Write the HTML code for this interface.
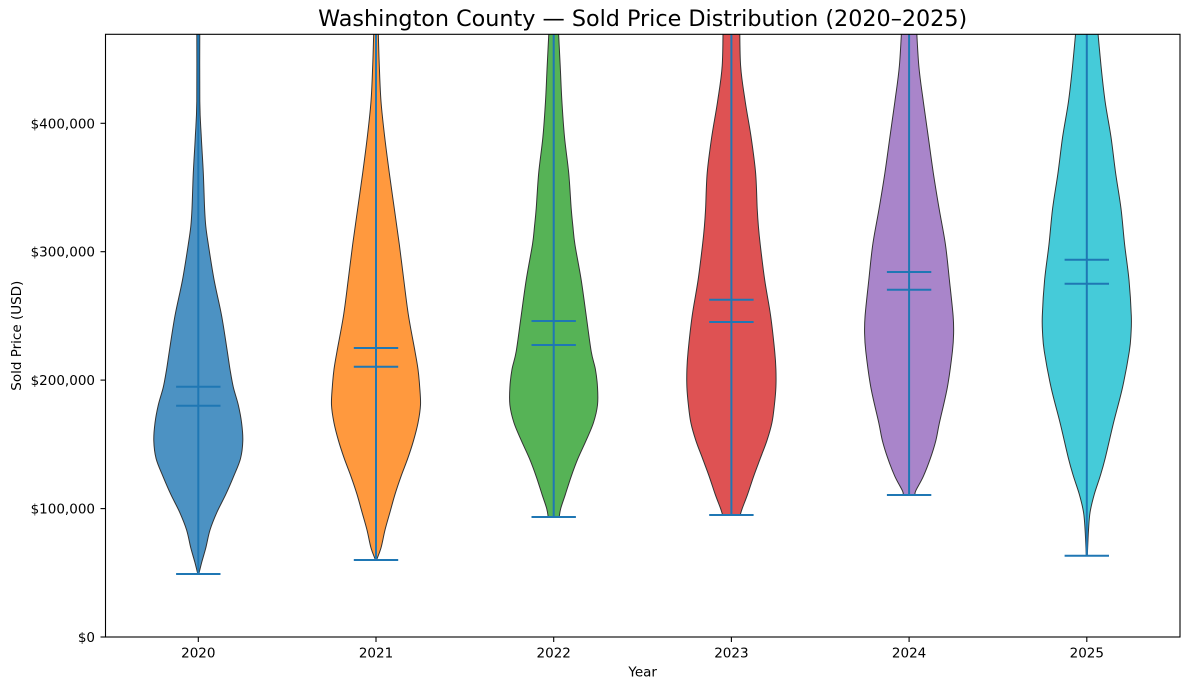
<!DOCTYPE html>
<html>
<head>
<meta charset="utf-8">
<style>
  html,body{margin:0;padding:0;background:#fff;}
  svg{display:block;}
  text{font-family:"DejaVu Sans","Liberation Sans",sans-serif;fill:#000;}
</style>
</head>
<body>
<svg id="chart" width="1189" height="690" viewBox="0 0 1189 690" xmlns="http://www.w3.org/2000/svg">
  <defs>
    <clipPath id="ax"><rect x="105.5" y="34.3" width="1074.5" height="602.7"/></clipPath>
  </defs>
  <rect x="0" y="0" width="1189" height="690" fill="#fff"/>

  <!-- Title -->
  <text x="642.7" y="26" font-size="22" text-anchor="middle" textLength="649" lengthAdjust="spacingAndGlyphs">Washington County — Sold Price Distribution (2020–2025)</text>

  <g clip-path="url(#ax)">
    <!-- Violin bodies -->
    <g transform="translate(198.3,0)">
      <polygon class="v" fill="#4c92c3" stroke="#333" stroke-width="1" stroke-linejoin="round" points="1.5,20 1.5,101.4 3,137.1 5,172.9 6.3,208.6 7.5,226.4 10,244.3 15.8,280 23.3,315.7 29,351.4 31.7,369.3 35,387.1 40,405 43.3,422.9 44.5,440.7 42.2,458.6 35.3,476.4 27.5,494.3 18.7,512.1 11.7,530 7.5,547.9 3.5,562 0.5,574 -0.5,574 -3.5,562 -7.5,547.9 -11.7,530 -18.7,512.1 -27.5,494.3 -35.3,476.4 -42.2,458.6 -44.5,440.7 -43.3,422.9 -40,405 -35,387.1 -31.7,369.3 -29,351.4 -23.3,315.7 -15.8,280 -10,244.3 -7.5,226.4 -6.3,208.6 -5,172.9 -3,137.1 -1.5,101.4 -1.5,20"/>
    </g>
    <g transform="translate(376,0)">
      <polygon class="v" fill="#ff993e" stroke="#333" stroke-width="1" stroke-linejoin="round" points="2.3,20 2.3,33.6 3.3,65.7 5,101.4 8.7,137.1 13.3,172.9 18.3,208.6 23.3,244.3 27.8,280 32.5,315.7 39,351.4 42,369.3 43.7,387.1 44.5,405 42,422.9 37.5,440.7 31.7,458.6 25,476.4 19,494.3 14,512.1 9,530 5,547.9 0.5,560 -0.5,560 -5,547.9 -9,530 -14,512.1 -19,494.3 -25,476.4 -31.7,458.6 -37.5,440.7 -42,422.9 -44.5,405 -43.7,387.1 -42,369.3 -39,351.4 -32.5,315.7 -27.8,280 -23.3,244.3 -18.3,208.6 -13.3,172.9 -8.7,137.1 -5,101.4 -3.3,65.7 -2.3,33.6 -2.3,20"/>
    </g>
    <g transform="translate(553.7,0)">
      <polygon class="v" fill="#56b356" stroke="#333" stroke-width="1" stroke-linejoin="round" points="4.2,20 6.5,65.7 8.2,101.4 10.8,137.1 15,172.9 17.5,208.6 19.2,226.4 21.2,244.3 27.5,280 32.5,315.7 37.5,351.4 41.7,369.3 43.8,387.1 43.8,405 39.7,422.9 32.3,440.7 24.2,458.6 17.5,476.4 11.7,494.3 7,508.6 5.5,517 -5.5,517 -7,508.6 -11.7,494.3 -17.5,476.4 -24.2,458.6 -32.3,440.7 -39.7,422.9 -43.8,405 -43.8,387.1 -41.7,369.3 -37.5,351.4 -32.5,315.7 -27.5,280 -21.2,244.3 -19.2,226.4 -17.5,208.6 -15,172.9 -10.8,137.1 -8.2,101.4 -6.5,65.7 -4.2,20"/>
    </g>
    <g transform="translate(731.4,0)">
      <polygon class="v" fill="#de5253" stroke="#333" stroke-width="1" stroke-linejoin="round" points="8.3,20 9.2,65.7 13.8,101.4 19.7,137.1 24.2,172.9 25.8,208.6 27,226.4 28.8,244.3 33.3,280 39.2,315.7 43.3,351.4 44.5,369.3 44.5,387.1 43,405 40.5,422.9 35.5,440.7 28.8,458.6 22.2,476.4 16.2,494.3 10.8,508.6 8.8,515 -8.8,515 -10.8,508.6 -16.2,494.3 -22.2,476.4 -28.8,458.6 -35.5,440.7 -40.5,422.9 -43,405 -44.5,387.1 -44.5,369.3 -43.3,351.4 -39.2,315.7 -33.3,280 -28.8,244.3 -27,226.4 -25.8,208.6 -24.2,172.9 -19.7,137.1 -13.8,101.4 -9.2,65.7 -8.3,20"/>
    </g>
    <g transform="translate(909.1,0)">
      <polygon class="v" fill="#a985ca" stroke="#333" stroke-width="1" stroke-linejoin="round" points="7,20 9.7,65.7 14.2,101.4 19.2,137.1 24.2,172.9 30,208.6 36.3,244.3 40.3,280 44,315.7 44.5,333.6 43.3,351.4 38.3,387.1 30.3,422.9 26.7,440.7 21.2,458.6 14.2,476.4 6.7,490.7 5.8,495 -5.8,495 -6.7,490.7 -14.2,476.4 -21.2,458.6 -26.7,440.7 -30.3,422.9 -38.3,387.1 -43.3,351.4 -44.5,333.6 -44,315.7 -40.3,280 -36.3,244.3 -30,208.6 -24.2,172.9 -19.2,137.1 -14.2,101.4 -9.7,65.7 -7,20"/>
    </g>
    <g transform="translate(1086.8,0)">
      <polygon class="v" fill="#45cbd9" stroke="#333" stroke-width="1" stroke-linejoin="round" points="10,20 14.2,65.7 18.3,101.4 24.2,137.1 28.8,172.9 34.2,208.6 37.8,244.3 42.2,280 44.5,315.7 44.2,333.6 42.5,351.4 35.8,387.1 26.7,422.9 18.3,458.6 13.3,476.4 7.5,494.3 3.3,512.1 1.7,530 0.5,555.7 -0.5,555.7 -1.7,530 -3.3,512.1 -7.5,494.3 -13.3,476.4 -18.3,458.6 -26.7,422.9 -35.8,387.1 -42.5,351.4 -44.2,333.6 -44.5,315.7 -42.2,280 -37.8,244.3 -34.2,208.6 -28.8,172.9 -24.2,137.1 -18.3,101.4 -14.2,65.7 -10,20"/>
    </g>

    <!-- Lines: extrema bars, means, medians -->
    <g stroke="#1f77b4" stroke-width="2" fill="none">
      <line x1="198.3" y1="20" x2="198.3" y2="574"/>
      <line x1="176.1" y1="574" x2="220.5" y2="574"/>
      <line x1="176.1" y1="386.8" x2="220.5" y2="386.8"/>
      <line x1="176.1" y1="405.8" x2="220.5" y2="405.8"/>

      <line x1="376" y1="20" x2="376" y2="560"/>
      <line x1="353.8" y1="560" x2="398.2" y2="560"/>
      <line x1="353.8" y1="348" x2="398.2" y2="348"/>
      <line x1="353.8" y1="366.8" x2="398.2" y2="366.8"/>

      <line x1="553.7" y1="20" x2="553.7" y2="517"/>
      <line x1="531.5" y1="517" x2="575.9" y2="517"/>
      <line x1="531.5" y1="321" x2="575.9" y2="321"/>
      <line x1="531.5" y1="345" x2="575.9" y2="345"/>

      <line x1="731.4" y1="20" x2="731.4" y2="515"/>
      <line x1="709.2" y1="515" x2="753.6" y2="515"/>
      <line x1="709.2" y1="299.8" x2="753.6" y2="299.8"/>
      <line x1="709.2" y1="322" x2="753.6" y2="322"/>

      <line x1="909.1" y1="20" x2="909.1" y2="495"/>
      <line x1="886.9" y1="495" x2="931.3" y2="495"/>
      <line x1="886.9" y1="272" x2="931.3" y2="272"/>
      <line x1="886.9" y1="289.8" x2="931.3" y2="289.8"/>

      <line x1="1086.8" y1="20" x2="1086.8" y2="555.7"/>
      <line x1="1064.6" y1="555.7" x2="1109" y2="555.7"/>
      <line x1="1064.6" y1="259.8" x2="1109" y2="259.8"/>
      <line x1="1064.6" y1="283.8" x2="1109" y2="283.8"/>
    </g>
  </g>

  <!-- Axes frame -->
  <rect x="105.5" y="34.3" width="1074.5" height="602.7" fill="none" stroke="#000" stroke-width="1.1"/>

  <!-- Y ticks -->
  <g stroke="#000" stroke-width="1.1">
    <line x1="100.5" y1="637" x2="105.5" y2="637"/>
    <line x1="100.5" y1="508.6" x2="105.5" y2="508.6"/>
    <line x1="100.5" y1="380.1" x2="105.5" y2="380.1"/>
    <line x1="100.5" y1="251.7" x2="105.5" y2="251.7"/>
    <line x1="100.5" y1="123.3" x2="105.5" y2="123.3"/>
  </g>
  <g font-size="13.5" text-anchor="end">
    <text x="95" y="642">$0</text>
    <text x="95" y="513.6">$100,000</text>
    <text x="95" y="385.1">$200,000</text>
    <text x="95" y="256.7">$300,000</text>
    <text x="95" y="128.3">$400,000</text>
  </g>

  <!-- X ticks -->
  <g stroke="#000" stroke-width="1.1">
    <line x1="198.3" y1="637" x2="198.3" y2="642"/>
    <line x1="376" y1="637" x2="376" y2="642"/>
    <line x1="553.7" y1="637" x2="553.7" y2="642"/>
    <line x1="731.4" y1="637" x2="731.4" y2="642"/>
    <line x1="909.1" y1="637" x2="909.1" y2="642"/>
    <line x1="1086.8" y1="637" x2="1086.8" y2="642"/>
  </g>
  <g font-size="13.5" text-anchor="middle">
    <text x="198.3" y="657.5">2020</text>
    <text x="376" y="657.5">2021</text>
    <text x="553.7" y="657.5">2022</text>
    <text x="731.4" y="657.5">2023</text>
    <text x="909.1" y="657.5">2024</text>
    <text x="1086.8" y="657.5">2025</text>
  </g>

  <!-- Axis labels -->
  <text x="642.7" y="676.5" font-size="13.5" text-anchor="middle">Year</text>
  <text transform="translate(21,335.7) rotate(-90)" font-size="13.5" text-anchor="middle">Sold Price (USD)</text>
</svg>
<script>
(function(){
  var NS = "http://www.w3.org/2000/svg";
  var polys = document.querySelectorAll("polygon.v");
  for (var k = 0; k < polys.length; k++) {
    var pg = polys[k];
    var raw = pg.getAttribute("points").trim().split(/\s+/);
    var p = raw.map(function(s){ var a = s.split(","); return [parseFloat(a[0]), parseFloat(a[1])]; });
    var n = p.length;
    function g(i){ return p[Math.max(0, Math.min(n-1, i))]; }
    var d = "M" + p[0][0] + "," + p[0][1];
    for (var i = 0; i < n-1; i++) {
      var p0 = g(i-1), p1 = g(i), p2 = g(i+1), p3 = g(i+2);
      // keep sharp corner at the bottom junction (sign change of x)
      if (p1[0] > 0 && p2[0] < 0) { d += " L" + p2[0] + "," + p2[1]; continue; }
      if (p1[0] * p0[0] < 0) p0 = p1;
      if (p2[0] * p3[0] < 0) p3 = p2;
      var c1x = p1[0] + (p2[0]-p0[0])/6, c1y = p1[1] + (p2[1]-p0[1])/6;
      var c2x = p2[0] - (p3[0]-p1[0])/6, c2y = p2[1] - (p3[1]-p1[1])/6;
      d += " C" + c1x.toFixed(2) + "," + c1y.toFixed(2) + " " + c2x.toFixed(2) + "," + c2y.toFixed(2) + " " + p2[0] + "," + p2[1];
    }
    d += " Z";
    var path = document.createElementNS(NS, "path");
    path.setAttribute("d", d);
    path.setAttribute("fill", pg.getAttribute("fill"));
    path.setAttribute("stroke", pg.getAttribute("stroke"));
    path.setAttribute("stroke-width", pg.getAttribute("stroke-width"));
    path.setAttribute("stroke-linejoin", "round");
    pg.parentNode.replaceChild(path, pg);
  }
})();
</script>
</body>
</html>
